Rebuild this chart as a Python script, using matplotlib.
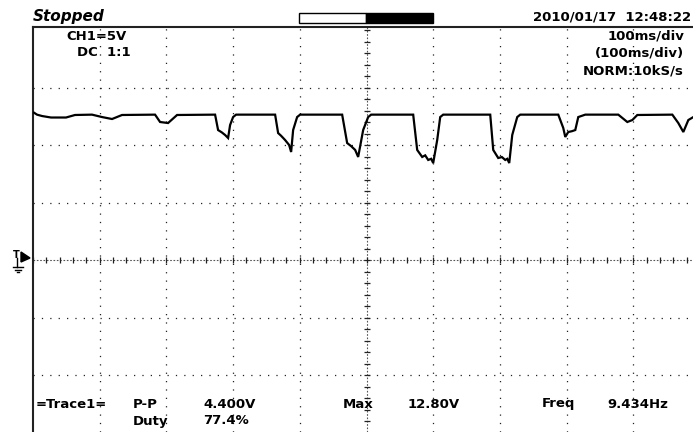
import matplotlib
matplotlib.use("Agg")
import matplotlib.pyplot as plt
import numpy as np
from matplotlib.patches import Rectangle, Polygon

# CH1 capture: time (ms from left edge of screen) and voltage (V)
t_ms = [1.5, 6, 13.5, 27, 49.5, 63, 88.5, 103.5, 118.5, 133.5,
        183, 190.5, 202.5, 216, 273, 277.5, 283, 288, 292.5, 295.5, 300, 304.5,
        363, 367.5, 372, 378, 384, 387, 390, 396, 400.5,
        463.5, 471, 477, 483, 487.5, 495, 502.5, 507,
        570, 576, 583.5, 588, 592.5, 597, 600, 606, 610.5, 615,
        685.5, 690, 697.5, 703, 708, 711, 714, 718.5, 726, 730.5,
        787.5, 795, 798, 802.5, 808, 813, 817.5, 828,
        877.5, 891, 898.5, 906, 958.5, 967.5, 975, 982.5, 990]
ch1_v = [12.81, 12.64, 12.52, 12.39, 12.39, 12.61, 12.64, 12.43, 12.26, 12.61,
         12.64, 12.00, 11.91, 12.61, 12.64, 11.30, 11.10, 10.87, 10.61, 11.74, 12.43, 12.64,
         12.64, 11.04, 10.80, 10.43, 10.00, 9.39, 11.30, 12.43, 12.64,
         12.64, 10.17, 9.90, 9.57, 8.96, 11.30, 12.43, 12.64,
         12.64, 9.57, 8.96, 9.10, 8.70, 8.80, 8.43, 10.43, 12.43, 12.64,
         12.64, 9.57, 8.87, 8.95, 8.70, 8.80, 8.43, 10.87, 12.43, 12.64,
         12.64, 11.48, 10.70, 11.13, 11.20, 11.30, 12.43, 12.64,
         12.64, 12.00, 12.17, 12.61, 12.64, 11.91, 11.13, 12.17, 12.43]

MS_PER_DIV = 100
V_PER_DIV = 5
grid_t = [100, 200, 300, 400, 600, 700, 800, 900]
grid_v = [-10, -5, 5, 10, 15]

header_left = "Stopped"
header_date = "2010/01/17  12:48:22"
ch_lines = ["CH1=5V", "DC  1:1"]
tb_lines = ["100ms/div", "(100ms/div)", "NORM:10kS/s"]
meas_row1 = [("=Trace1=", 36), ("P-P", 133), ("4.400V", 203),
             ("Max", 343), ("12.80V", 408), ("Freq", 542), ("9.434Hz", 607)]
meas_row2 = [("Duty", 133), ("77.4%", 203)]

W, H = 693, 432
fig = plt.figure(figsize=(W / 100, H / 100), dpi=100)
fig.patch.set_facecolor("white")

# screen area: left edge at 33 px, top edge at 27 px, 66.7 px/div, 57.5 px/div
left_px, top_px = 33, 27
px_per_tdiv, px_per_vdiv, zero_px = 66.7, 57.5, 260
ax = fig.add_axes([left_px / W, 0, (W - left_px) / W, (H - top_px) / H])
ax.set_xlim(0, (W - left_px) / px_per_tdiv * MS_PER_DIV)
ax.set_ylim(-(H - zero_px) / px_per_vdiv * V_PER_DIV,
            (zero_px - top_px) / px_per_vdiv * V_PER_DIV)

for s in ["right", "bottom"]:
    ax.spines[s].set_visible(False)
for s in ["left", "top"]:
    ax.spines[s].set_linewidth(1.5)
    ax.spines[s].set_color("#222222")
ax.set_xticks([])
ax.set_yticks([])

dots = (0, (1, 5.7))
for t in grid_t:
    ax.axvline(t, color="#222222", lw=0.9, ls=dots, zorder=1)
for v in grid_v:
    ax.axhline(v, color="#222222", lw=0.9, ls=dots, zorder=1)

# centre cross with minor division marks
ax.axhline(0, color="#555555", lw=0.8, ls=(0, (1.5, 1.5)), zorder=1)
ax.axvline(5 * MS_PER_DIV, color="#555555", lw=0.8, ls=(0, (1.5, 1.5)), zorder=1)
minor_t = np.arange(0, 1000, MS_PER_DIV / 5)
minor_v = np.arange(-15, 21, V_PER_DIV / 5)
ax.plot(minor_t, np.zeros_like(minor_t), ls="none", marker="|", ms=5,
        mew=0.9, color="#222222", zorder=2)
ax.plot(np.full_like(minor_v, 5 * MS_PER_DIV), minor_v, ls="none", marker="_",
        ms=5, mew=0.9, color="#222222", zorder=2)

ax.plot(t_ms, ch1_v, color="black", lw=1.6, zorder=3, solid_joinstyle="miter")

# overlay in pixel coordinates for the readouts
ov = fig.add_axes([0, 0, 1, 1])
ov.set_xlim(0, W)
ov.set_ylim(H, 0)
ov.axis("off")
ov.patch.set_alpha(0)

font = dict(family="DejaVu Sans", weight="bold", size=9.5, color="black")
ov.text(33, 17, header_left, ha="left", va="center", style="italic",
        family="DejaVu Sans", weight="bold", size=11)
ov.text(691, 17, header_date, ha="right", va="center", **font)

ov.add_patch(Rectangle((299, 13), 67, 10, facecolor="white",
                       edgecolor="black", lw=1))
ov.add_patch(Rectangle((366, 13), 67, 10, facecolor="black",
                       edgecolor="black", lw=1))

ov.text(66, 36, ch_lines[0], ha="left", va="center", **font)
ov.text(77, 53, ch_lines[1], ha="left", va="center", **font)
for txt, yc in zip(tb_lines, [36, 53, 71]):
    ov.text(684, yc, txt, ha="right", va="center", **font)

for txt, x in meas_row1:
    ov.text(x, 404, txt, ha="left", va="center", **font)
for txt, x in meas_row2:
    ov.text(x, 421, txt, ha="left", va="center", **font)

# trigger / ground marker at the left of the zero line
ov.text(16, 255, "T", ha="center", va="center", fontsize=7, weight="bold")
ov.add_patch(Polygon([(21, 252), (21, 262), (30, 258)], closed=True,
                     facecolor="black", edgecolor="black"))
ov.plot([17, 17], [258, 267], color="black", lw=1)
ov.plot([13, 23], [267, 267], color="black", lw=1)
ov.plot([15, 21], [269.5, 269.5], color="black", lw=1)
ov.plot([17, 19], [272, 272], color="black", lw=1)

fig.savefig("out.png", dpi=100, facecolor="white")
